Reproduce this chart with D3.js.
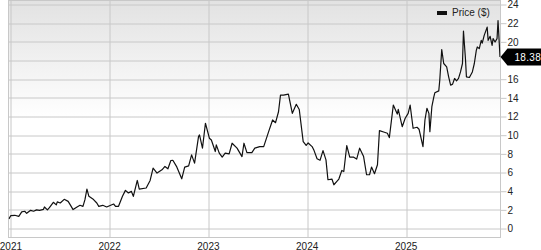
<!DOCTYPE html>
<html>
<head>
<meta charset="utf-8">
<script src="https://cdn.jsdelivr.net/npm/d3@7"></script>
<style>
  body { margin: 0; background: #fff; }
  text { font-family: Arial, "Liberation Sans", sans-serif; }
</style>
</head>
<body>
<div id="chart"></div>
<script>
// price, time as decimal years
const years = [
  2020.98, 2021.00, 2021.04, 2021.08, 2021.11, 2021.14, 2021.16, 2021.20, 2021.23, 2021.26,
  2021.29, 2021.33, 2021.34, 2021.37, 2021.39, 2021.43, 2021.46, 2021.47, 2021.50, 2021.54,
  2021.58, 2021.60, 2021.63, 2021.67, 2021.70, 2021.73, 2021.75, 2021.77, 2021.79, 2021.83,
  2021.87, 2021.89, 2021.93, 2021.97, 2022.04, 2022.06, 2022.09, 2022.13, 2022.16, 2022.19,
  2022.22, 2022.24, 2022.28, 2022.30, 2022.37, 2022.41, 2022.44, 2022.48, 2022.53, 2022.56,
  2022.59, 2022.62, 2022.64, 2022.68, 2022.73, 2022.76, 2022.80, 2022.83, 2022.86, 2022.90,
  2022.91, 2022.94, 2022.97, 2023.01, 2023.03, 2023.07, 2023.08, 2023.11, 2023.14, 2023.17,
  2023.21, 2023.24, 2023.29, 2023.34, 2023.36, 2023.39, 2023.44, 2023.47, 2023.52, 2023.56,
  2023.61, 2023.65, 2023.68, 2023.71, 2023.73, 2023.76, 2023.81, 2023.85, 2023.89, 2023.92,
  2023.96, 2023.99, 2024.01, 2024.05, 2024.07, 2024.10, 2024.13, 2024.16, 2024.19, 2024.21,
  2024.25, 2024.27, 2024.30, 2024.32, 2024.35, 2024.37, 2024.40, 2024.43, 2024.47, 2024.50,
  2024.53, 2024.57, 2024.60, 2024.63, 2024.65, 2024.68, 2024.71, 2024.73, 2024.78, 2024.81,
  2024.83, 2024.87, 2024.91, 2024.92, 2024.96, 2024.99, 2025.02, 2025.04, 2025.07, 2025.11,
  2025.13, 2025.17, 2025.19, 2025.21, 2025.23, 2025.24, 2025.26, 2025.28, 2025.29, 2025.33,
  2025.34, 2025.36, 2025.38, 2025.41, 2025.43, 2025.45, 2025.47, 2025.49, 2025.51, 2025.53,
  2025.55, 2025.57, 2025.58, 2025.60, 2025.61, 2025.64, 2025.67, 2025.69, 2025.71, 2025.72,
  2025.74, 2025.76, 2025.77, 2025.79, 2025.82, 2025.83, 2025.85, 2025.87, 2025.88, 2025.90,
  2025.92, 2025.93, 2025.95
]
const prices = [
  1.03, 1.39, 1.42, 1.31, 1.78, 1.85, 1.63, 1.95, 1.85, 2.00,
  1.95, 2.06, 2.31, 2.00, 2.24, 2.81, 2.53, 2.85, 2.74, 3.13,
  2.91, 2.56, 2.03, 2.31, 2.49, 2.38, 3.09, 4.23, 3.45, 3.17,
  2.74, 2.38, 2.49, 2.31, 2.63, 2.38, 2.38, 3.45, 4.09, 3.81,
  3.98, 3.45, 5.15, 4.23, 4.34, 5.15, 6.47, 5.94, 6.29, 6.65,
  6.40, 7.29, 7.31, 6.60, 5.33, 6.58, 6.72, 7.89, 7.01, 9.85,
  10.03, 8.61, 11.28, 9.68, 9.49, 8.25, 8.96, 8.08, 7.65, 8.08,
  8.00, 9.14, 8.61, 7.71, 9.14, 8.14, 8.14, 8.61, 8.78, 8.78,
  10.38, 11.63, 11.34, 12.51, 14.29, 14.29, 14.40, 12.34, 13.31, 12.75,
  9.31, 8.90, 9.17, 8.78, 8.35, 7.47, 7.31, 8.35, 7.36, 5.23,
  5.30, 4.69, 5.05, 5.30, 6.22, 6.11, 8.89, 7.65, 7.65, 7.44,
  8.61, 7.71, 5.76, 5.76, 6.58, 5.87, 6.83, 10.49, 10.32, 10.21,
  9.74, 13.23, 12.27, 12.77, 10.91, 11.81, 12.34, 13.23, 10.74, 10.85,
  10.64, 8.78, 11.63, 12.88, 12.34, 10.38, 13.05, 14.11, 14.54, 14.75,
  15.89, 19.17, 17.68, 17.31, 16.25, 15.36, 15.47, 16.08, 15.82, 16.08,
  16.78, 17.68, 21.15, 18.21, 16.25, 16.18, 16.78, 17.68, 19.09, 19.45,
  19.27, 20.16, 19.87, 20.69, 21.58, 20.16, 20.59, 19.63, 20.34, 19.98,
  20.34, 22.29, 18.38
]
const yTicks = [0, 2, 4, 6, 8, 10, 12, 14, 16, 18, 20, 22, 24]
const xTickYears = [2021, 2022, 2023, 2024, 2025]
const lastPrice = 18.38
const legendLabel = "Price ($)"

function yearToDate(y) {
    const yr = Math.floor(y)
    const start = Date.UTC(yr, 0, 1)
    const end = Date.UTC(yr + 1, 0, 1)
    return new Date(start + (y - yr) * (end - start))
}

const dataset = years.map((y, i) => ({ date: yearToDate(y), price: prices[i] }))

let dimensions = {
    width: 541,
    height: 250,
    margin: { top: 0.5, right: 40.5, bottom: 12.5, left: 8.5 },
}
dimensions.boundedWidth = dimensions.width - dimensions.margin.left - dimensions.margin.right
dimensions.boundedHeight = dimensions.height - dimensions.margin.top - dimensions.margin.bottom

const wrapper = d3.select("#chart").append("svg")
    .attr("width", dimensions.width)
    .attr("height", dimensions.height)
    .style("display", "block")

const defs = wrapper.append("defs")
const grad = defs.append("linearGradient")
    .attr("id", "bg-grad")
    .attr("x1", 0).attr("y1", 0).attr("x2", 0).attr("y2", 1)
grad.append("stop").attr("offset", "0%").attr("stop-color", "#e2e2e2")
grad.append("stop").attr("offset", "50%").attr("stop-color", "#ffffff")
grad.append("stop").attr("offset", "100%").attr("stop-color", "#ffffff")

defs.append("clipPath").attr("id", "bounds-clip")
    .append("rect")
    .attr("width", dimensions.boundedWidth)
    .attr("height", dimensions.boundedHeight)

const bounds = wrapper.append("g")
    .attr("transform", `translate(${dimensions.margin.left},${dimensions.margin.top})`)

// scales
const xScale = d3.scaleTime()
    .domain([yearToDate(2020.976), yearToDate(2025.955)])
    .range([0, dimensions.boundedWidth])

const yScale = d3.scaleLinear()
    .domain([-0.96, 24.43])
    .range([dimensions.boundedHeight, 0])

// background
bounds.append("rect")
    .attr("width", dimensions.boundedWidth)
    .attr("height", dimensions.boundedHeight)
    .attr("fill", "url(#bg-grad)")

// grid
bounds.append("g")
    .selectAll("line")
    .data(yTicks)
    .join("line")
    .attr("x1", 0)
    .attr("x2", dimensions.boundedWidth)
    .attr("y1", d => Math.round(yScale(d)) + 0.5)
    .attr("y2", d => Math.round(yScale(d)) + 0.5)
    .attr("stroke", "#c8c8c8")

bounds.append("g")
    .selectAll("line")
    .data(xTickYears)
    .join("line")
    .attr("x1", d => Math.round(xScale(yearToDate(d))) + 0.5)
    .attr("x2", d => Math.round(xScale(yearToDate(d))) + 0.5)
    .attr("y1", 0)
    .attr("y2", dimensions.boundedHeight)
    .attr("stroke", "#c8c8c8")

bounds.append("rect")
    .attr("width", dimensions.boundedWidth)
    .attr("height", dimensions.boundedHeight)
    .attr("fill", "none")
    .attr("stroke", "#c8c8c8")

// line
const lineGenerator = d3.line()
    .x(d => xScale(d.date))
    .y(d => yScale(d.price))

bounds.append("g")
    .attr("clip-path", "url(#bounds-clip)")
    .append("path")
    .attr("d", lineGenerator(dataset))
    .attr("fill", "none")
    .attr("stroke", "#111")
    .attr("stroke-width", 1.2)
    .attr("stroke-linejoin", "round")

// y axis on the right
const lastY = yScale(lastPrice)
const yAxis = bounds.append("g")
    .attr("transform", `translate(${dimensions.boundedWidth},0)`)
    .call(d3.axisRight(yScale).tickValues(yTicks).tickSize(6).tickPadding(1).tickFormat(d3.format("d")))
yAxis.select(".domain").remove()
yAxis.selectAll(".tick line").attr("stroke", "#c8c8c8")
yAxis.selectAll(".tick text")
    .attr("fill", "#222")
    .style("font-size", "10px")
    .style("font-family", "Arial, 'Liberation Sans', sans-serif")
// the price marker sits on top of the nearby tick, hide it
yAxis.selectAll(".tick")
    .filter(d => Math.abs(yScale(d) - lastY) < 10)
    .remove()

// x axis labels
bounds.append("g")
    .selectAll("text")
    .data(xTickYears)
    .join("text")
    .attr("x", d => xScale(yearToDate(d)))
    .attr("y", dimensions.boundedHeight + 12)
    .attr("text-anchor", "middle")
    .attr("fill", "#222")
    .style("font-size", "10px")
    .text(d => d)

// legend
const legend = bounds.append("g")
    .attr("transform", `translate(${437 - dimensions.margin.left},${11 - dimensions.margin.top})`)
legend.append("rect")
    .attr("width", 10)
    .attr("height", 4)
    .attr("fill", "#111")
legend.append("text")
    .attr("x", 15)
    .attr("y", 5)
    .attr("fill", "#222")
    .style("font-size", "10px")
    .text(legendLabel)

// last price marker
const marker = bounds.append("g")
    .attr("transform", `translate(${dimensions.boundedWidth},${lastY})`)
marker.append("path")
    .attr("d", "M0,0 L7,-8.5 L41,-8.5 L41,8.5 L7,8.5 Z")
    .attr("fill", "#000")
marker.append("text")
    .attr("x", 14)
    .attr("y", 3.6)
    .attr("fill", "#fff")
    .style("font-size", "10px")
    .style("letter-spacing", "0.3px")
    .text(d3.format(".2f")(lastPrice))
</script>
</body>
</html>
